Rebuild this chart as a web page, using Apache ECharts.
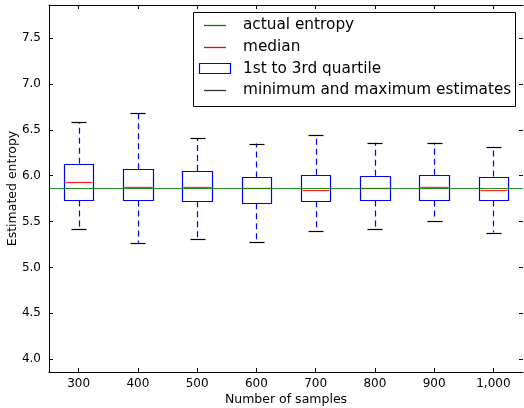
<!DOCTYPE html>
<html>
<head>
<meta charset="utf-8">
<script src="https://cdn.jsdelivr.net/npm/echarts@6/dist/echarts.min.js"></script>
<style>html,body{margin:0;padding:0;background:#fff}#c{width:524px;height:408px}</style>
</head>
<body>
<div id="c"></div>
<script>
const categories = ['300', '400', '500', '600', '700', '800', '900', '1,000'];
const minimums = [5.42, 5.27, 5.31, 5.28, 5.40, 5.42, 5.51, 5.38];
const q1Values = [5.73, 5.73, 5.72, 5.70, 5.72, 5.73, 5.73, 5.73];
const medians = [5.935, 5.871, 5.874, 5.860, 5.849, 5.863, 5.881, 5.849];
const q3Values = [6.13, 6.07, 6.05, 5.98, 6.01, 6.00, 6.01, 5.99];
const maximums = [6.58, 6.68, 6.41, 6.35, 6.44, 6.36, 6.36, 6.31];
const actualEntropy = 5.86;
const yTicks = [4.0, 4.5, 5.0, 5.5, 6.0, 6.5, 7.0, 7.5];
const legendLabels = ['actual entropy', 'median', '1st to 3rd quartile', 'minimum and maximum estimates'];

const FONT = 'DejaVu Sans';
const boxData = categories.map((c, i) => [i, minimums[i], q1Values[i], medians[i], q3Values[i], maximums[i]]);

function px(v) { return Math.round(v) + 0.5; }

const chart = echarts.init(document.getElementById('c'), null, { renderer: 'canvas' });

const commonY = {
  type: 'value', min: 3.86, max: 7.86,
  splitLine: { show: false },
  axisLine: { show: true, lineStyle: { color: '#000', width: 1 } },
  axisTick: { show: true, inside: true, length: 4, lineStyle: { color: '#000' }, customValues: yTicks },
};

const option = {
  animation: false,
  grid: { left: 49, right: 1, top: 5, bottom: 36, containLabel: false, outerBoundsMode: 'none' },
  xAxis: [{
    type: 'category', data: categories, boundaryGap: true,
    name: 'Number of samples', nameLocation: 'middle', nameGap: 21, nameMoveOverlap: false,
    nameTextStyle: { fontFamily: FONT, fontSize: 12.5, color: '#000' },
    axisLine: { show: true, lineStyle: { color: '#000', width: 1 } },
    axisTick: { show: true, inside: true, length: 4, alignWithLabel: true, lineStyle: { color: '#000' } },
    axisLabel: { fontFamily: FONT, fontSize: 12, color: '#000', margin: 6 },
    splitLine: { show: false }
  }, {
    type: 'category', data: categories, boundaryGap: true, position: 'top',
    axisLine: { show: true, lineStyle: { color: '#000', width: 1 } },
    axisTick: { show: true, inside: true, length: 4, alignWithLabel: true, lineStyle: { color: '#000' } },
    axisLabel: { show: false }, splitLine: { show: false }
  }],
  yAxis: [Object.assign({}, commonY, {
    name: 'Estimated entropy', nameLocation: 'middle', nameGap: 30, nameMoveOverlap: false,
    nameTextStyle: { fontFamily: FONT, fontSize: 12.5, color: '#000' },
    axisLabel: { fontFamily: FONT, fontSize: 12, color: '#000', margin: 8,
      customValues: yTicks, formatter: v => v.toFixed(1) }
  }), Object.assign({}, commonY, {
    position: 'right', axisLine: { show: false },
    axisLabel: { show: false }
  })],
  series: [{
    type: 'line',
    name: 'actual entropy',
    xAxisIndex: 0, yAxisIndex: 0,
    data: [],
    z: 1,
    markLine: {
      silent: true, symbol: ['none', 'none'], label: { show: false },
      lineStyle: { color: '#008000', width: 1, type: 'solid', opacity: 0.85 },
      data: [{ yAxis: actualEntropy }]
    }
  }, {
    type: 'custom',
    name: 'boxes',
    xAxisIndex: 0, yAxisIndex: 0,
    data: boxData,
    encode: { x: 0, y: [1, 2, 3, 4, 5] },
    renderItem: function (params, api) {
      const i = api.value(0);
      const cx = api.coord([i, api.value(3)])[0];
      const bw = api.size([1, 0])[0] * 0.5;
      const yMin = api.coord([i, api.value(1)])[1];
      const yQ1 = api.coord([i, api.value(2)])[1];
      const yMed = api.coord([i, api.value(3)])[1];
      const yQ3 = api.coord([i, api.value(4)])[1];
      const yMax = api.coord([i, api.value(5)])[1];
      const x0 = px(cx - bw / 2), x1 = px(cx + bw / 2), xc = px(cx);
      const cw = bw / 4;
      return {
        type: 'group',
        children: [
          { type: 'line', shape: { x1: xc, y1: yQ3, x2: xc, y2: yMax },
            style: { stroke: '#0000ff', lineWidth: 1.2, lineDash: [6, 4] } },
          { type: 'line', shape: { x1: xc, y1: yQ1, x2: xc, y2: yMin },
            style: { stroke: '#0000ff', lineWidth: 1.2, lineDash: [6, 4] } },
          { type: 'line', shape: { x1: px(cx - cw), y1: px(yMax), x2: px(cx + cw), y2: px(yMax) },
            style: { stroke: '#000', lineWidth: 1.2 } },
          { type: 'line', shape: { x1: px(cx - cw), y1: px(yMin), x2: px(cx + cw), y2: px(yMin) },
            style: { stroke: '#000', lineWidth: 1.2 } },
          { type: 'rect', shape: { x: x0, y: px(yQ3), width: x1 - x0, height: px(yQ1) - px(yQ3) },
            style: { fill: 'none', stroke: '#0000ff', lineWidth: 1.2 } },
          { type: 'line', shape: { x1: x0 + 1, y1: px(yMed), x2: x1 - 1, y2: px(yMed) },
            style: { stroke: '#ff0000', lineWidth: 1.3, opacity: 0.85 } }
        ]
      };
    },
    z: 3
  }],
  graphic: [{
    type: 'group', left: 193, top: 12, z: 100,
    children: [
      { type: 'rect', shape: { x: 0.5, y: 0.5, width: 322, height: 94 },
        style: { fill: '#fff', stroke: '#000', lineWidth: 1 } },
      { type: 'line', shape: { x1: 11, y1: 13.5, x2: 33, y2: 13.5 }, style: { stroke: '#008000', lineWidth: 1.3 } },
      { type: 'line', shape: { x1: 11, y1: 35.5, x2: 33, y2: 35.5 }, style: { stroke: '#ff0000', lineWidth: 1.3 } },
      { type: 'rect', shape: { x: 6.5, y: 51.5, width: 31, height: 10 }, style: { fill: 'none', stroke: '#0000ff', lineWidth: 1.2 } },
      { type: 'line', shape: { x1: 11, y1: 78.5, x2: 33, y2: 78.5 }, style: { stroke: '#333', lineWidth: 1.3 } },
      { type: 'text', x: 50, y: 13.5, style: { text: legendLabels[0], font: '15.3px "DejaVu Sans"', fill: '#000', verticalAlign: 'middle' } },
      { type: 'text', x: 50, y: 35, style: { text: legendLabels[1], font: '15.3px "DejaVu Sans"', fill: '#000', verticalAlign: 'middle' } },
      { type: 'text', x: 50, y: 57, style: { text: legendLabels[2], font: '15.3px "DejaVu Sans"', fill: '#000', verticalAlign: 'middle' } },
      { type: 'text', x: 50, y: 78.5, style: { text: legendLabels[3], font: '15.3px "DejaVu Sans"', fill: '#000', verticalAlign: 'middle' } }
    ]
  }]
};
chart.setOption(option);
</script>
</body>
</html>
